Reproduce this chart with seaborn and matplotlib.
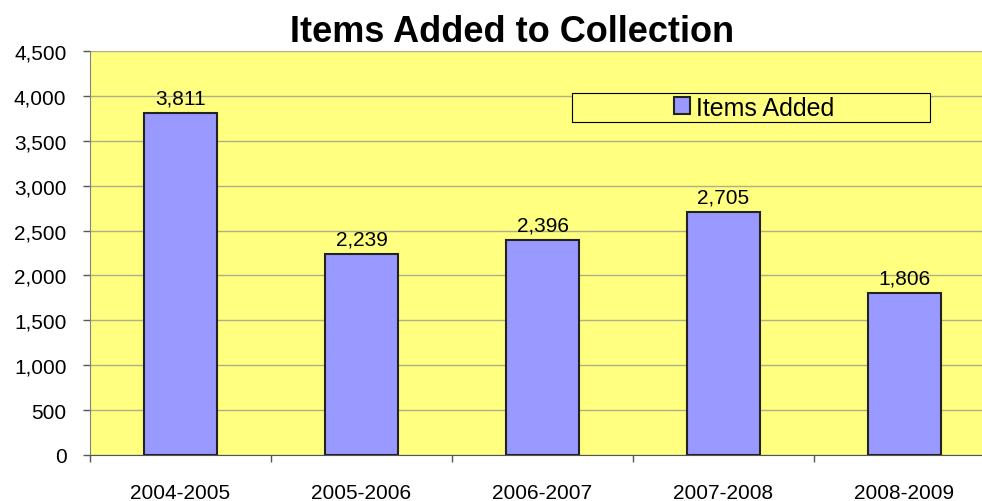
import matplotlib
matplotlib.use('Agg')
import matplotlib.pyplot as plt
import numpy as np
import pandas as pd
import seaborn as sns
from matplotlib.patches import Rectangle

# chart data
years = ['2004-2005', '2005-2006', '2006-2007', '2007-2008', '2008-2009']
items_added = [3811, 2239, 2396, 2705, 1806]
y_ticks = [0, 500, 1000, 1500, 2000, 2500, 3000, 3500, 4000, 4500]

sns.set_style('white')
plt.rcParams['font.family'] = ['Liberation Sans', 'DejaVu Sans']
plt.rcParams['text.color'] = 'black'
plt.rcParams['xtick.color'] = '#555555'
plt.rcParams['ytick.color'] = '#555555'
plt.rcParams['xtick.labelcolor'] = 'black'
plt.rcParams['ytick.labelcolor'] = 'black'

df = pd.DataFrame({'year': years, 'items': items_added})

fig = plt.figure(figsize=(9.82, 5.02), dpi=100)
# plot area runs off the right edge like the original
ax = fig.add_axes([90 / 982, 1 - 456 / 502, 905 / 982, 404 / 502])
ax.set_facecolor('#FFFF80')

sns.barplot(data=df, x='year', y='items', color='#9999FF', width=0.4,
            edgecolor='#222222', linewidth=1.5, saturation=1,
            label='Items Added', ax=ax)

ax.set_xlim(-0.5, 4.5)
ax.set_ylim(0, 4500)
ax.set_yticks(y_ticks)
ax.set_yticklabels([f'{v:,}' for v in y_ticks], fontsize=15)
ax.yaxis.grid(True, color='#B0B088', linewidth=1)
ax.set_axisbelow(True)

ax.set_xticks(range(len(years)))
ax.set_xticklabels(years, fontsize=15)
ax.tick_params(axis='x', which='major', length=0, pad=20)
ax.set_xticks(np.arange(-0.5, 4.5, 1), minor=True)
ax.tick_params(axis='x', which='minor', length=5, width=1, direction='out', bottom=True)
ax.tick_params(axis='y', length=5, width=1, direction='out', pad=12, left=True)
ax.set_xlabel('')
ax.set_ylabel('')

for s in ['top', 'right']:
    ax.spines[s].set_visible(False)
ax.spines['left'].set_color('#808080')
ax.spines['bottom'].set_color('#555555')

for i, v in enumerate(items_added):
    ax.annotate(f'{v:,}', (i, v), xytext=(0, 4), textcoords='offset points',
                ha='center', va='bottom', fontsize=15)

# legend box (wide frame, content centred like the original)
ax.add_patch(Rectangle((482 / 905, 333 / 404), 358 / 905, 29 / 404, transform=ax.transAxes,
                       facecolor='#FFFF80', edgecolor='black', linewidth=0.8,
                       zorder=5, clip_on=False))
leg = ax.legend(loc='center', bbox_to_anchor=(664 / 905, 347.5 / 404),
                fontsize=18, frameon=False,
                handlelength=0.65, handleheight=0.65, handletextpad=0.25,
                borderpad=0, borderaxespad=0)
leg.set_zorder(6)

fig.text(512 / 982, 1 - 42 / 502, 'Items Added to Collection', ha='center', va='baseline',
         fontsize=26, fontweight='bold')

fig.savefig('out.png', dpi=100)
